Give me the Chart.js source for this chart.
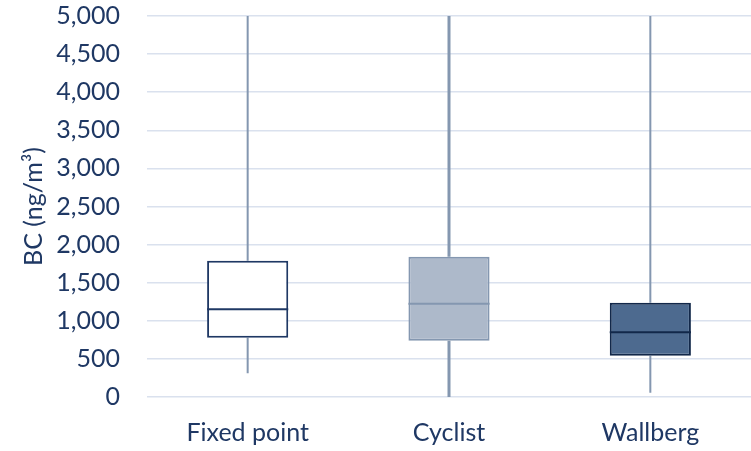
<!DOCTYPE html>
<html>
<head>
<meta charset="utf-8">
<script src="https://cdn.jsdelivr.net/npm/chart.js@4/dist/chart.umd.min.js"></script>
<style>
  html, body { margin: 0; padding: 0; background: #ffffff; }
  #wrap { width: 751px; height: 451px; position: relative; }
</style>
</head>
<body>
<div id="wrap"><canvas id="c"></canvas></div>
<script>
// Black carbon concentration by measurement site (ng/m³)
const categories = ['Fixed point', 'Cyclist', 'Wallberg'];
const whiskerLow = [311, 0, 56];
const quartile1 = [778, 739, 542];
const medians = [1151, 1224, 849];
const quartile3 = [1789, 1841, 1238];
const whiskerHigh = [5000, 5000, 5000];
const yTicks = [0, 500, 1000, 1500, 2000, 2500, 3000, 3500, 4000, 4500, 5000];

const boxFill = ['#ffffff', '#adb9ca', '#4d6a8f'];
const boxEdge = ['#1f3864', '#8497b0', '#12284a'];
const whiskerColor = '#8497b0';
const whiskerWidth = [2, 3, 2];
const textColor = '#1f3864';
const fontFamily = 'Lato, "Open Sans", sans-serif';

// Whiskers behind the boxes, medians on top, all placed through the chart scales
const boxPlotPlugin = {
  id: 'boxPlot',
  beforeDatasetsDraw(chart) {
    const { ctx, chartArea, scales } = chart;
    ctx.save();
    ctx.beginPath();
    ctx.rect(chartArea.left, chartArea.top, chartArea.right - chartArea.left, chartArea.bottom - chartArea.top);
    ctx.clip();
    ctx.strokeStyle = whiskerColor;
    categories.forEach((c, i) => {
      const x = scales.x.getPixelForValue(i);
      ctx.lineWidth = whiskerWidth[i];
      ctx.beginPath();
      ctx.moveTo(x, scales.y.getPixelForValue(whiskerLow[i]));
      ctx.lineTo(x, scales.y.getPixelForValue(quartile1[i]));
      ctx.moveTo(x, scales.y.getPixelForValue(quartile3[i]));
      ctx.lineTo(x, scales.y.getPixelForValue(whiskerHigh[i]));
      ctx.stroke();
    });
    ctx.restore();
  },
  afterDatasetsDraw(chart) {
    const { ctx, scales } = chart;
    const meta = chart.getDatasetMeta(0);
    ctx.save();
    ctx.lineWidth = 2;
    meta.data.forEach((bar, i) => {
      const half = bar.width / 2;
      const y = scales.y.getPixelForValue(medians[i]);
      ctx.strokeStyle = boxEdge[i];
      ctx.beginPath();
      ctx.moveTo(bar.x - half, y);
      ctx.lineTo(bar.x + half, y);
      ctx.stroke();
    });
    ctx.restore();
  }
};

new Chart(document.getElementById('c'), {
  type: 'bar',
  data: {
    labels: categories,
    datasets: [{
      data: categories.map((c, i) => [quartile1[i], quartile3[i]]),
      backgroundColor: boxFill,
      borderColor: boxEdge,
      borderWidth: 2,
      borderSkipped: false,
      barPercentage: 0.403,
      categoryPercentage: 1
    }]
  },
  options: {
    responsive: true,
    maintainAspectRatio: false,
    animation: false,
    layout: { padding: { top: 16, right: 0, left: 0, bottom: 0 } },
    plugins: { legend: { display: false }, tooltip: { enabled: false } },
    scales: {
      x: {
        grid: { display: false, drawTicks: false },
        border: { display: false },
        ticks: { color: textColor, font: { family: fontFamily, size: 25 }, padding: 21 },
        afterFit(scale) { scale.height = 54; scale.paddingLeft = 0; scale.paddingRight = 0; }
      },
      y: {
        min: 0,
        max: 5000,
        afterBuildTicks(scale) { scale.ticks = yTicks.map(v => ({ value: v })); },
        grid: { color: '#dae1ee', lineWidth: 1.5, drawTicks: false },
        border: { display: false },
        ticks: {
          color: textColor,
          font: { family: fontFamily, size: 25 },
          padding: 27,
          callback: v => v.toLocaleString('en-US')
        },
        title: {
          display: true,
          text: 'BC (ng/m³)',
          color: textColor,
          font: { family: fontFamily, size: 25 },
          padding: { top: 19, bottom: 0 }
        },
        afterFit(scale) { scale.width = 147; scale.paddingTop = 0; scale.paddingBottom = 0; }
      }
    }
  },
  plugins: [boxPlotPlugin]
});
</script>
</body>
</html>
